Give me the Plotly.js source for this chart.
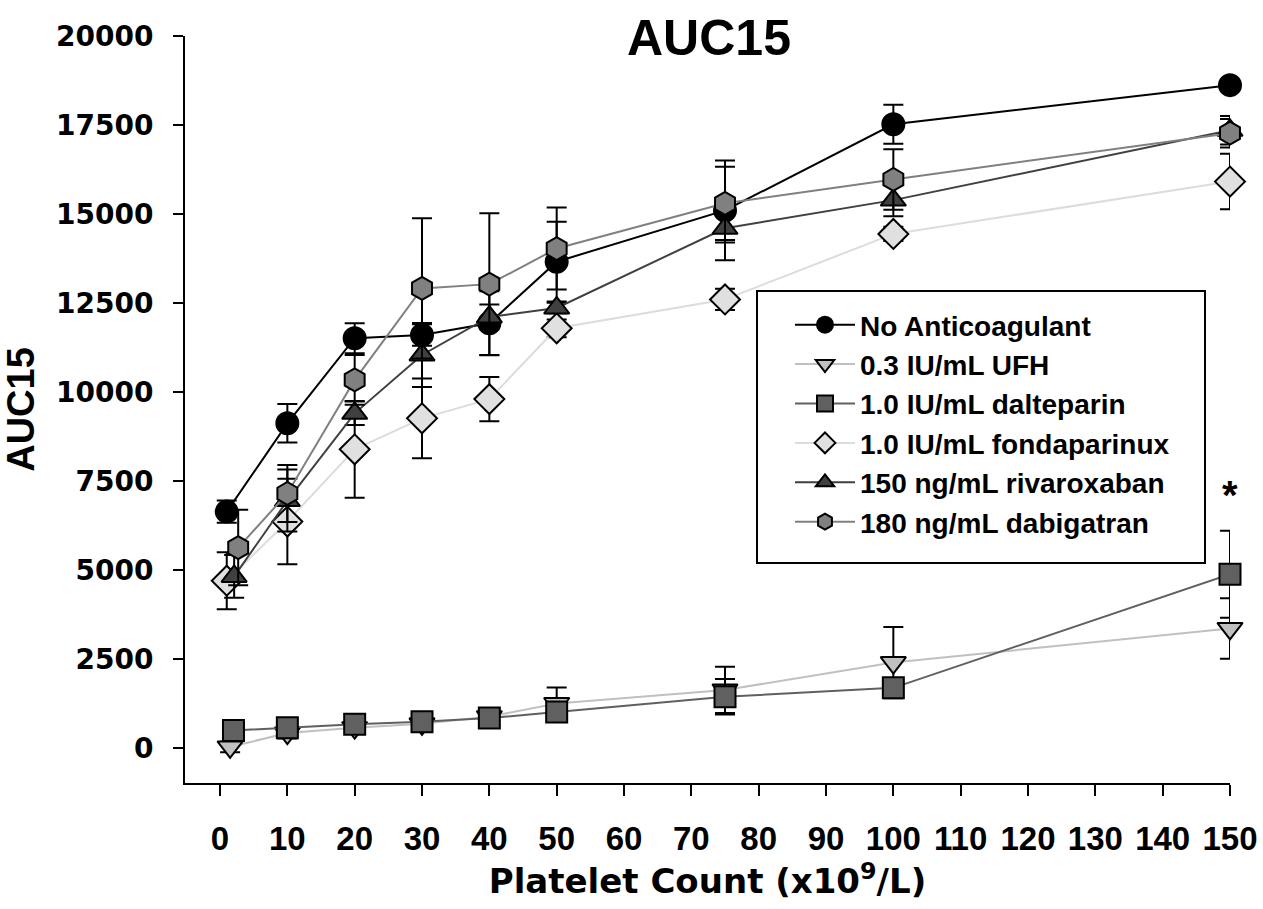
<!DOCTYPE html>
<html><head><meta charset="utf-8">
<script src="https://cdn.plot.ly/plotly-3.0.1.min.js"></script>
<style>html,body{margin:0;padding:0;background:#fff}</style>
</head><body><div id="chart" style="width:1263px;height:909px"></div>
<script>
// ---- data ----
const seriesNames = ["No Anticoagulant", "0.3 IU/mL UFH", "1.0 IU/mL dalteparin",
  "1.0 IU/mL fondaparinux", "150 ng/mL rivaroxaban", "180 ng/mL dabigatran"];

const xNoAnti = [1, 10, 20, 30, 40, 50, 75, 100, 150];
const yNoAnti = [6640, 9120, 11510, 11600, 11930, 13660, 15100, 17520, 18620];
const eNoAnti = [310, 540, 420, 300, 900, 1120, 1400, 550, 120];

const xUFH = [1.5, 10, 20, 30, 40, 50, 75, 100, 150];
const yUFH = [30, 420, 570, 680, 880, 1250, 1630, 2400, 3360];
const eUFH = [150, 150, 150, 150, 150, 450, 650, 1000, 850];

const xDalt = [2, 10, 20, 30, 40, 50, 75, 100, 150];
const yDalt = [490, 570, 670, 740, 840, 1010, 1440, 1690, 4880];
const eDalt = [100, 100, 100, 100, 100, 150, 500, 150, 1220];

const xFonda = [1, 10, 20, 30, 40, 50, 75, 100, 150];
const yFonda = [4700, 6360, 8390, 9260, 9800, 11790, 12600, 14440, 15910];
const eFonda = [800, 1200, 1360, 1120, 620, 250, 300, 200, 780];

const xRiva = [2.1, 10, 20, 30, 40, 50, 75, 100, 150];
const yRiva = [4820, 6950, 9400, 11040, 12110, 12360, 14600, 15390, 17350];
const eRiva = [600, 870, 330, 900, 350, 150, 400, 450, 400];

const xDabi = [2.7, 10, 20, 30, 40, 50, 75, 100, 150];
const yDabi = [5630, 7150, 10340, 12910, 13030, 14030, 15300, 15970, 17270];
const eDabi = [1060, 800, 700, 1970, 1990, 1150, 1030, 850, 400];

const xTickVals = [0, 10, 20, 30, 40, 50, 60, 70, 80, 90, 100, 110, 120, 130, 140, 150];
const xTickText = ["0","10","20","30","40","50","60","70","80","90","100","110","120","130","140","150"];
const yTickVals = [0, 2500, 5000, 7500, 10000, 12500, 15000, 17500, 20000];
const yTickText = ["0","2500","5000","7500","10000","12500","15000","17500","20000"];

const sigX = 150, sigY = 7120, sigText = "*";

// ---- styles ----
const styles = [
  {symbol: "circle", size: 22, fill: "#000000", line: "#000000"},
  {symbol: "triangle-down", size: 22, fill: "#c0c0c0", line: "#c0c0c0"},
  {symbol: "square", size: 21, fill: "#606060", line: "#606060"},
  {symbol: "diamond", size: 23, fill: "#e0e0e0", line: "#dcdcdc"},
  {symbol: "triangle-up", size: 22, fill: "#404040", line: "#404040"},
  {symbol: "hexagon", size: 23, fill: "#808080", line: "#808080"}
];
const xs = [xNoAnti, xUFH, xDalt, xFonda, xRiva, xDabi];
const ys = [yNoAnti, yUFH, yDalt, yFonda, yRiva, yDabi];
const es = [eNoAnti, eUFH, eDalt, eFonda, eRiva, eDabi];

const traces = seriesNames.map((name, i) => ({
  type: "scatter", mode: "lines+markers", name: name,
  x: xs[i], y: ys[i],
  cliponaxis: false,
  line: {color: styles[i].line, width: 2},
  marker: {symbol: styles[i].symbol, size: styles[i].size, color: styles[i].fill,
           line: {color: "#000000", width: 2}},
  error_y: {type: "data", array: es[i], visible: true, color: "#000000", thickness: 2, width: 10}
}));

const layout = {
  width: 1263, height: 909,
  paper_bgcolor: "#ffffff", plot_bgcolor: "#ffffff",
  margin: {l: 185, r: 33, t: 36, b: 126, pad: 0},
  showlegend: true,
  title: {text: "AUC15", x: 709/1263, xanchor: "center", xref: "container",
          y: 1 - 37/909, yanchor: "middle", yref: "container",
          font: {family: "Liberation Sans, Arial, sans-serif", size: 50, weight: "bold", color: "#000"}},
  xaxis: {
    range: [-5.2, 150], autorange: false,
    showgrid: false, zeroline: false, showline: true, linecolor: "#000", linewidth: 2,
    ticks: "outside", ticklen: 11, tickwidth: 2, tickcolor: "#000",
    tickvals: xTickVals, ticktext: xTickText, ticklabelstandoff: 14,
    tickfont: {family: "Liberation Sans, Arial, sans-serif", size: 33, weight: "bold", color: "#000"},
    title: {text: "Platelet Count (x10<sup>9</sup>/L)", standoff: 14,
            font: {family: "DejaVu Sans, sans-serif", size: 34, weight: "bold", color: "#000"}}
  },
  yaxis: {
    range: [-983, 20000], autorange: false,
    showgrid: false, zeroline: false, showline: true, linecolor: "#000", linewidth: 2,
    ticks: "outside", ticklen: 10, tickwidth: 2, tickcolor: "#000",
    tickvals: yTickVals, ticktext: yTickText, ticklabelstandoff: 14,
    tickfont: {family: "DejaVu Sans, sans-serif", size: 28, weight: "bold", color: "#000"},
    title: {text: "AUC15", standoff: 14,
            font: {family: "Liberation Sans, Arial, sans-serif", size: 38, weight: "bold", color: "#000"}}
  },
  legend: {
    x: (790 - 185) / 1045, y: (783 - 300) / 747, xanchor: "left", yanchor: "top",
    bgcolor: "rgba(0,0,0,0)", borderwidth: 0, itemwidth: 60,
    font: {family: "Liberation Sans, Arial, sans-serif", size: 28, weight: "bold", color: "#000"}
  },
  shapes: [{type: "rect", xref: "paper", yref: "paper",
            x0: (757 - 185) / 1045, x1: (1205 - 185) / 1045,
            y0: (783 - 563) / 747, y1: (783 - 291) / 747,
            line: {color: "#000", width: 2}, fillcolor: "rgba(0,0,0,0)", layer: "above"}],
  annotations: [{x: sigX, y: sigY, xref: "x", yref: "y", text: sigText, showarrow: false,
                 xanchor: "center", yanchor: "middle",
                 font: {family: "Liberation Sans, Arial, sans-serif", size: 40, weight: "bold", color: "#000"}}]
};

Plotly.newPlot("chart", traces, layout, {displayModeBar: false, responsive: false});
</script>
</body></html>
